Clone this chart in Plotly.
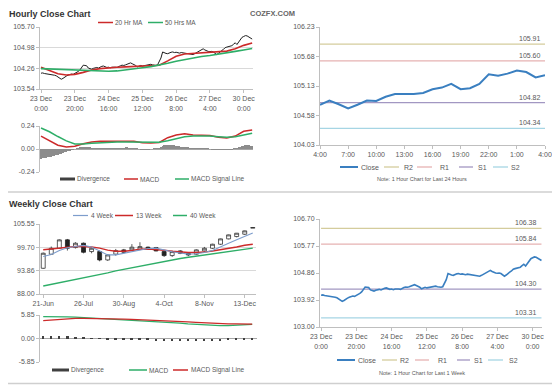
import plotly.graph_objects as go

# The page body has an 8px margin, so the figure is drawn 8px in from the window edge.
OFF = 8
W, H = 560 - OFF, 385 - OFF
def px(x): return (x - OFF) / W
def py(y): return 1 - (y - OFF) / H

FONT = "Liberation Sans, Arial, sans-serif"
RED = "#cc2a2a"
GREEN = "#2eae68"
BLUE = "#3a7fc0"
C_R2 = "#d4cc9c"
C_R1 = "#e6b2b2"
C_S1 = "#a297c2"
C_S2 = "#a6d5e4"
C_4W = "#7d9dcc"
TXT = "#595959"
AX = "#bfbfbf"

# ---------------- Hourly data (23 Dec 0:00 -> 30 Dec ~5:00) ----------------
hourly_close = [
    104.09, 104.10, 104.08, 104.07, 104.08, 104.06, 104.05, 104.04, 104.02, 104.00,
    103.96, 103.92, 103.88, 103.91, 103.96, 103.99, 104.02, 104.04, 104.06, 104.05,
    104.08, 104.10, 104.15, 104.20, 104.30, 104.37, 104.36, 104.35, 104.27, 104.24,
    104.23, 104.26, 104.28, 104.29, 104.27, 104.31, 104.33, 104.34, 104.31, 104.29,
    104.30, 104.28, 104.30, 104.31, 104.30, 104.29, 104.33, 104.35, 104.37, 104.36,
    104.38, 104.41, 104.43, 104.45, 104.42, 104.40, 104.36, 104.31, 104.35, 104.36,
    104.34, 104.35, 104.37, 104.38, 104.39, 104.40, 104.38, 104.37, 104.36, 104.38,
    104.48, 104.62, 104.83, 104.80, 104.78, 104.77, 104.80, 104.82, 104.83, 104.81,
    104.82, 104.80, 104.79, 104.81, 104.80, 104.78, 104.79, 104.77, 104.75, 104.76,
    104.74, 104.77, 104.80, 104.83, 104.87, 104.91, 104.94, 104.90, 104.87, 104.85,
    104.84, 104.85, 104.83, 104.78, 104.74, 104.78, 104.84, 104.88, 104.92, 104.98,
    105.00, 105.02, 105.03, 105.05, 105.10, 105.15, 105.09, 105.17, 105.26, 105.34,
    105.37, 105.40, 105.39, 105.36, 105.31, 105.28,
]
hours = list(range(len(hourly_close)))

ma_hours = list(range(0, 126, 5))
ma20 = [104.30, 104.18, 104.07, 104.03, 104.05, 104.12, 104.20, 104.25, 104.28, 104.30,
        104.31, 104.33, 104.34, 104.35, 104.37, 104.52, 104.68, 104.76, 104.78, 104.80,
        104.82, 104.82, 104.86, 104.94, 105.06, 105.14]
ma50 = [104.25, 104.24, 104.23, 104.22, 104.21, 104.20, 104.18, 104.16, 104.16, 104.17,
        104.20, 104.24, 104.28, 104.32, 104.37, 104.44, 104.51, 104.57, 104.62, 104.67,
        104.71, 104.75, 104.80, 104.85, 104.90, 104.95]

macd_h = [0.134, 0.085, 0.040, 0.020, 0.028, 0.055, 0.072, 0.080, 0.080, 0.078,
          0.082, 0.080, 0.066, 0.062, 0.068, 0.118, 0.145, 0.158, 0.145, 0.140,
          0.140, 0.122, 0.115, 0.135, 0.185, 0.198]
signal_h = [0.219, 0.180, 0.130, 0.085, 0.052, 0.052, 0.060, 0.066, 0.070, 0.072,
            0.073, 0.072, 0.070, 0.068, 0.070, 0.085, 0.110, 0.128, 0.135, 0.138,
            0.135, 0.128, 0.122, 0.128, 0.148, 0.165]
div_h = [
    -0.100, -0.098, -0.095, -0.092, -0.088, -0.085, -0.080, -0.076, -0.071, -0.066,
    -0.060, -0.054, -0.048, -0.041, -0.035, -0.028, -0.021, -0.015, -0.009, -0.004,
    0.000, 0.004, 0.008, 0.012, 0.015, 0.016, 0.016, 0.015, 0.013, 0.012,
    0.010, 0.009, 0.008, 0.008, 0.007, 0.006, 0.006, 0.005, 0.005, 0.004,
    0.004, 0.004, 0.005, 0.006, 0.006, 0.007, 0.007, 0.008, 0.009, 0.010,
    0.011, 0.011, 0.010, 0.009, 0.007, 0.005, 0.003, 0.001, 0.000, -0.001,
    -0.002, -0.002, -0.002, -0.001, -0.001, 0.000, 0.000, 0.001, 0.002, 0.004,
    0.010, 0.020, 0.032, 0.038, 0.042, 0.044, 0.045, 0.044, 0.042, 0.040,
    0.036, 0.032, 0.029, 0.026, 0.022, 0.019, 0.016, 0.012, 0.009, 0.006,
    0.004, 0.002, 0.001, 0.002, 0.004, 0.006, 0.007, 0.006, 0.004, 0.002,
    0.000, -0.002, -0.004, -0.006, -0.008, -0.009, -0.010, -0.010, -0.009, -0.008,
    -0.007, -0.005, -0.003, -0.001, 0.002, 0.006, 0.010, 0.015, 0.022, 0.030,
    0.036, 0.040, 0.042, 0.040, 0.036, 0.033,
]
hour_tick_idx = [0, 20, 40, 60, 80, 100, 120]
hour_tick_text = ["23 Dec<br>0:00", "23 Dec<br>20:00", "24 Dec<br>16:00", "25 Dec<br>12:00",
                  "26 Dec<br>8:00", "27 Dec<br>4:00", "30 Dec<br>0:00"]

# ---------------- Last 24 hours ----------------
day_close = [104.78, 104.86, 104.79, 104.71, 104.78, 104.86, 104.85, 104.93, 104.98, 104.98,
             104.98, 105.00, 105.07, 105.10, 105.17, 105.07, 105.09, 105.17, 105.35, 105.32,
             105.36, 105.42, 105.39, 105.29, 105.33]
day_hours = list(range(len(day_close)))
day_tick_idx = [0, 3, 6, 9, 12, 15, 18, 21, 24]
day_tick_text = ["4:00", "7:00", "10:00", "13:00", "16:00", "19:00", "22:00", "1:00", "4:00"]
level_names = ["R2", "R1", "S1", "S2"]
level_colors = [C_R2, C_R1, C_S1, C_S2]
day_levels = [105.91, 105.60, 104.82, 104.34]
week_levels = [106.38, 105.84, 104.30, 103.31]

# ---------------- Weekly data ----------------
weeks = list(range(27))
wk_open = [94.45, 97.97, 99.47, 101.57, 99.64, 100.73, 98.64, 98.64, 96.54, 98.00,
           99.06, 99.06, 99.22, 99.73, 99.64, 98.64, 97.63, 98.80, 98.22, 97.97,
           98.80, 99.47, 100.48, 101.82, 102.40, 102.99, 104.50]
wk_high = [98.40, 99.90, 101.70, 101.80, 101.00, 100.90, 99.70, 98.90, 98.00, 99.30,
           99.30, 100.50, 100.98, 99.90, 99.80, 98.80, 98.90, 99.00, 98.40, 99.20,
           99.80, 100.60, 101.90, 102.90, 103.30, 103.90, 104.80]
wk_low = [94.30, 97.80, 99.30, 98.90, 99.40, 98.20, 98.20, 96.20, 96.30, 97.60,
          98.20, 98.90, 99.00, 99.10, 98.70, 97.30, 97.30, 98.00, 97.50, 97.80,
          98.60, 99.30, 100.30, 101.70, 102.20, 102.80, 104.50]
wk_close = [98.22, 99.47, 101.57, 99.47, 100.73, 98.47, 99.47, 96.54, 97.80, 98.89,
            98.47, 99.73, 99.89, 99.31, 98.80, 97.63, 98.64, 98.22, 97.80, 99.06,
            99.47, 100.48, 101.82, 102.82, 103.24, 103.83, 104.67]
ma4w = [97.4, 97.9, 98.9, 99.6, 99.9, 100.2, 99.8, 98.9, 97.8, 97.8, 98.2, 98.6, 99.0, 99.4,
        99.5, 99.0, 98.6, 98.3, 98.0, 98.1, 98.4, 98.9, 99.7, 100.7, 101.6, 102.5, 103.3]
ma13w = [99.1, 99.3, 99.6, 99.8, 99.9, 99.9, 99.8, 99.5, 99.0, 98.7, 98.7, 98.9, 99.2, 99.3,
         99.2, 99.0, 98.7, 98.5, 98.4, 98.4, 98.5, 98.8, 99.1, 99.4, 99.8, 100.2, 100.5]
ma40w = [90.0, 90.4, 90.9, 91.3, 91.7, 92.1, 92.5, 92.9, 93.3, 93.8, 94.2, 94.6, 95.0, 95.4,
         95.8, 96.2, 96.6, 96.9, 97.2, 97.5, 97.8, 98.1, 98.4, 98.7, 98.9, 99.2, 99.5]
macd_w = [5.43, 5.45, 5.45, 5.40, 5.32, 5.22, 5.10, 4.98, 4.86, 4.74, 4.62, 4.52, 4.44, 4.36,
          4.26, 4.14, 4.00, 3.84, 3.66, 3.50, 3.36, 3.26, 3.20, 3.20, 3.26, 3.36, 3.50]
signal_w = [4.43, 4.60, 4.78, 4.92, 5.00, 5.03, 5.02, 4.98, 4.92, 4.86, 4.80, 4.74, 4.68, 4.62,
            4.56, 4.48, 4.38, 4.26, 4.14, 4.02, 3.90, 3.80, 3.72, 3.66, 3.62, 3.60, 3.58]
div_w = [0.5, 0.6, 0.6, 0.5, 0.4, 0.3, 0.1, -0.1, -0.2, -0.3, -0.3, -0.4, -0.4, -0.4,
         -0.5, -0.5, -0.5, -0.6, -0.6, -0.6, -0.6, -0.5, -0.5, -0.4, -0.4, -0.3, -0.3]
week_tick_idx = [0, 5, 10, 15, 20, 25]
week_tick_text = ["21-Jun", "26-Jul", "30-Aug", "4-Oct", "8-Nov", "13-Dec"]

fig = go.Figure()

def line(x, y, ax, color, width=1.5):
    fig.add_trace(go.Scatter(x=x, y=y, mode="lines", line=dict(color=color, width=width),
                             xaxis="x" + ax, yaxis="y" + ax, hoverinfo="skip"))

# A: hourly close + MAs
line(hours, hourly_close, "", "#1e1e1e", 1)
line(ma_hours, ma20, "", RED, 1.6)
line(ma_hours, ma50, "", GREEN, 1.6)
# B: hourly MACD
fig.add_trace(go.Bar(x=hours, y=div_h, marker=dict(color="#8c8c8c", line=dict(width=0)),
                     width=0.55, xaxis="x2", yaxis="y2", hoverinfo="skip"))
line(ma_hours, macd_h, "2", RED, 1.5)
line(ma_hours, signal_h, "2", GREEN, 1.5)
# C: last 24h
for nm, col, v in zip(level_names, level_colors, day_levels):
    line([day_hours[0], day_hours[-1]], [v, v], "3", col, 1.3)
line(day_hours, day_close, "3", BLUE, 2)
# D: weekly candles
fig.add_trace(go.Candlestick(
    x=weeks, open=wk_open, high=wk_high, low=wk_low, close=wk_close,
    increasing=dict(line=dict(color="#333333", width=0.8), fillcolor="white"),
    decreasing=dict(line=dict(color="#222222", width=0.8), fillcolor="#222222"),
    whiskerwidth=0, xaxis="x4", yaxis="y4", hoverinfo="skip"))
line(weeks, ma40w, "4", GREEN, 1.5)
line(weeks, ma13w, "4", RED, 1.5)
line(weeks, ma4w, "4", C_4W, 1.1)
# E: weekly MACD
fig.add_trace(go.Bar(x=weeks, y=div_w, marker=dict(color="#404040", line=dict(width=0)),
                     width=0.3, xaxis="x5", yaxis="y5", hoverinfo="skip"))
line(weeks, macd_w, "5", GREEN, 1.3)
line(weeks, signal_w, "5", RED, 1.3)
# F: last week
for nm, col, v in zip(level_names, level_colors, week_levels):
    line([hours[0], hours[-1]], [v, v], "6", col, 1.3)
line(hours, hourly_close, "6", BLUE, 1.6)

base = dict(showline=True, linecolor=AX, linewidth=1, ticks="outside", ticklen=3,
            tickcolor=AX, tickfont=dict(size=7, color=TXT, family=FONT),
            zeroline=False, showgrid=False, fixedrange=True, automargin=False)

def dom(x0, x1, y0, y1):
    return [px(x0), px(x1)], [py(y1), py(y0)]

def setaxes(n, xd, yd, xr, yr, xt=None, yt=None, grid=False, zero=False, xline=True):
    xk = "xaxis" + n
    yk = "yaxis" + n
    xa = dict(base, domain=xd, range=xr, anchor="y" + n)
    if xt:
        xa.update(tickvals=xt[0], ticktext=xt[1])
    else:
        xa.update(showticklabels=False, ticks="")
    if not xline:
        xa.update(showline=False)
    ya = dict(base, domain=yd, range=yr, anchor="x" + n, tickvals=yt[0], ticktext=yt[1],
              showgrid=grid, gridcolor="#d9d9d9", gridwidth=1)
    if zero:
        ya.update(zeroline=True, zerolinecolor="#a6a6a6", zerolinewidth=1)
    return {xk: xa, yk: ya}

layout_axes = {}
xd, yd = dom(40, 253, 27, 89)
layout_axes.update(setaxes("", xd, yd, [-0.6, 125.5], [103.54, 105.70],
                           xt=(hour_tick_idx, hour_tick_text),
                           yt=([103.54, 104.26, 104.98, 105.70], ["103.54", "104.26", "104.98", "105.70"]),
                           grid=True))
xd, yd = dom(40, 253, 126, 172)
layout_axes.update(setaxes("2", xd, yd, [-0.6, 125.5], [-0.24, 0.24],
                           yt=([-0.24, 0, 0.24], ["-0.24", "0.00", "0.24"]),
                           grid=True, zero=True, xline=False))
xd, yd = dom(320, 545, 27, 145)
layout_axes.update(setaxes("3", xd, yd, [0, 24], [104.03, 106.23],
                           xt=(day_tick_idx, day_tick_text),
                           yt=([104.03, 104.58, 105.13, 105.68, 106.23],
                               ["104.03", "104.58", "105.13", "105.68", "106.23"])))
xd, yd = dom(40, 256, 224, 294)
layout_axes.update(setaxes("4", xd, yd, [-0.4, 26.4], [88.0, 105.55],
                           xt=(week_tick_idx, week_tick_text),
                           yt=([88.0, 93.85, 99.70, 105.55], ["88.00", "93.86", "99.70", "105.55"]),
                           grid=True))
layout_axes["xaxis4"]["rangeslider"] = dict(visible=False)
xd, yd = dom(40, 257, 315, 362)
layout_axes.update(setaxes("5", xd, yd, [-0.4, 26.6], [-5.85, 5.85],
                           yt=([-5.85, 0, 5.85], ["-5.85", "0.00", "5.85"]),
                           grid=True, zero=True, xline=False))
xd, yd = dom(320, 542, 219, 327)
layout_axes.update(setaxes("6", xd, yd, [-0.6, 125.3], [103.0, 106.70],
                           xt=(hour_tick_idx, hour_tick_text),
                           yt=([103.0, 103.925, 104.85, 105.775, 106.70],
                               ["103.00", "103.92", "104.86", "105.77", "106.70"])))

annotations = []
shapes = []

def text(x, y, s, size=7, color=TXT, bold=False, xanchor="left", yanchor="middle"):
    annotations.append(dict(x=px(x), y=py(y), xref="paper", yref="paper", text=("<b>%s</b>" % s) if bold else s,
                            showarrow=False, xanchor=xanchor, yanchor=yanchor, borderpad=0,
                            font=dict(size=size, color=color, family=FONT)))

def seg(x0, x1, y, color, width=1.5):
    shapes.append(dict(type="line", xref="paper", yref="paper", x0=px(x0), x1=px(x1),
                       y0=py(y), y1=py(y), line=dict(color=color, width=width)))

# titles (top of the drawable area is at y=8)
text(8, 8, "Hourly Close Chart", size=9, color="#333333", bold=True, yanchor="top")
text(249, 8, "COZFX.COM", size=7.5, color="#666666", bold=True, yanchor="top")
text(8, 204, "Weekly Close Chart", size=9, color="#333333", bold=True)

# separators
seg(8, 560, 192, "#cfcfcf", 1.5)
seg(8, 560, 383.5, "#cfcfcf", 1.5)

# legend A
seg(98, 113, 22.5, RED); text(114, 22.5, "20 Hr MA", size=6.5)
seg(148, 163, 22.5, GREEN); text(164, 22.5, "50 Hrs MA", size=6.5)
# legend B
seg(60, 75, 179, "#404040", 3); text(76, 179, "Divergence", size=6.5)
seg(124, 138, 179, RED); text(139, 179, "MACD", size=6.5)
seg(175, 189, 179, GREEN); text(190, 179, "MACD Signal Line", size=6.5)
# legend C
seg(340, 358, 167, BLUE, 2); text(360, 167, "Close", size=7)
lx = [(384, 399, 403), (417, 432, 439), (459, 473, 477), (493, 508, 510)]
for (a, b, t), nm, col in zip(lx, level_names, level_colors):
    seg(a, b, 167, col, 1.3); text(t, 167, nm, size=7)
text(422, 179, "Note: 1 Hour Chart for Last 24 Hours", size=5.5, xanchor="center")
# legend D
seg(73, 88, 215.5, C_4W, 1.2); text(90, 215.5, "4 Week", size=6.5)
seg(115, 133, 215.5, RED); text(135, 215.5, "13 Week", size=6.5)
seg(173, 187, 215.5, GREEN); text(189, 215.5, "40 Week", size=6.5)
# legend E
seg(52, 69, 370, "#404040", 3); text(70, 370, "Divergence", size=6.5)
seg(129, 147, 370, GREEN); text(148, 370, "MACD", size=6.5)
seg(173, 188, 370, RED); text(190, 370, "MACD Signal Line", size=6.5)
# legend F
seg(337, 355, 360, BLUE, 2); text(357, 360, "Close", size=7)
lx = [(382, 397, 399), (415, 429, 437), (457, 470, 473), (488, 503, 508)]
for (a, b, t), nm, col in zip(lx, level_names, level_colors):
    seg(a, b, 360, col, 1.3); text(t, 360, nm, size=7)
text(422, 373, "Note: 1 Hour Chart for Last 1 Week", size=5.5, xanchor="center")

# level value labels
for v in day_levels:
    annotations.append(dict(x=day_hours[-1], y=v, xref="x3", yref="y3", text="%.2f" % v,
                            showarrow=False, xanchor="right", yanchor="bottom", xshift=-2, yshift=0,
                            font=dict(size=7, color=TXT, family=FONT)))
for v in week_levels:
    annotations.append(dict(x=hours[-1], y=v, xref="x6", yref="y6", text="%.2f" % v,
                            showarrow=False, xanchor="right", yanchor="bottom", xshift=-2, yshift=0,
                            font=dict(size=7, color=TXT, family=FONT)))

fig.update_layout(
    template="none", autosize=False,
    width=W, height=H, margin=dict(l=0, r=0, t=0, b=0, pad=0, autoexpand=False),
    paper_bgcolor="white", plot_bgcolor="white", showlegend=False,
    font=dict(family=FONT, size=7, color=TXT),
    annotations=annotations, shapes=shapes, bargap=0,
    **layout_axes,
)

fig.write_html("out.html")
